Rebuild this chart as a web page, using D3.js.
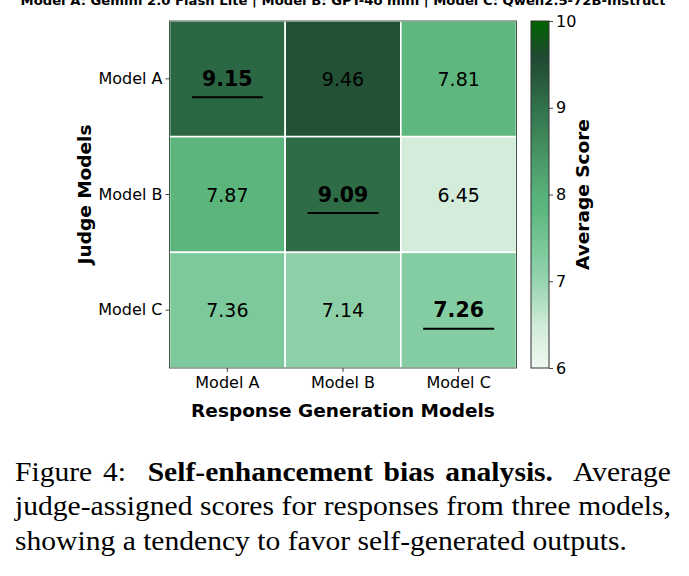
<!DOCTYPE html>
<html>
<head>
<meta charset="utf-8">
<script src="https://cdn.jsdelivr.net/npm/d3@7"></script>
<style>
  html, body { margin: 0; padding: 0; background: #fff; }
  svg { display: block; }
</style>
</head>
<body>
<svg id="chart" width="689" height="576"></svg>
<script>
// ---- data ----
const responseModels = ["Model A", "Model B", "Model C"];   // columns
const judgeModels = ["Model A", "Model B", "Model C"];      // rows
const scoresJudgeA = [9.15, 9.46, 7.81];
const scoresJudgeB = [7.87, 9.09, 6.45];
const scoresJudgeC = [7.36, 7.14, 7.26];
const colorbarTicks = [6, 7, 8, 9, 10];
const topTitle = "Model A: Gemini 2.0 Flash Lite | Model B: GPT-4o mini | Model C: Qwen2.5-72B-Instruct";

const scoreRows = [scoresJudgeA, scoresJudgeB, scoresJudgeC];
const cells = [];
judgeModels.forEach((j, r) => responseModels.forEach((m, c) => {
  cells.push({ judge: j, resp: m, value: scoreRows[r][c], self: r === c });
}));

// ---- colour map ----
const cmapDomain = [6.0, 6.45, 7.0, 7.36, 7.8, 8.0, 9.1, 9.46, 9.6, 10.0];
const cmapRange = ["#eef8f1", "#d4eddb", "#97d4b0", "#7cc99b", "#5eb77f", "#58b17a",
                   "#2e6b46", "#235136", "#1f4b31", "#006400"];
const color = d3.scaleLinear().domain(cmapDomain).range(cmapRange).interpolate(d3.interpolateRgb).clamp(true);

const svg = d3.select("#chart");
const sans = "'DejaVu Sans', sans-serif";

// ---- clipped top title ----
svg.append("text")
  .attr("x", 343).attr("y", 5)
  .attr("text-anchor", "middle")
  .attr("font-family", sans).attr("font-weight", "bold").attr("font-size", 13)
  .attr("textLength", 645).attr("lengthAdjust", "spacingAndGlyphs")
  .text(topTitle);

// ---- heatmap ----
const hmLeft = 169.5, hmRight = 516.5, hmTop = 21, hmBottom = 368;
const x = d3.scaleBand().domain(responseModels).range([hmLeft, hmRight]);
const y = d3.scaleBand().domain(judgeModels).range([hmTop, hmBottom]);

const g = svg.append("g");
g.selectAll("rect.cell").data(cells).enter().append("rect")
  .attr("class", "cell")
  .attr("x", d => x(d.resp)).attr("y", d => y(d.judge))
  .attr("width", x.bandwidth()).attr("height", y.bandwidth())
  .attr("fill", d => color(d.value))
  .attr("stroke", "#ffffff").attr("stroke-width", 1.6);

// frame
g.append("rect")
  .attr("x", hmLeft).attr("y", hmTop).attr("width", hmRight - hmLeft).attr("height", hmBottom - hmTop)
  .attr("fill", "none").attr("stroke", "#3d5a45").attr("stroke-width", 1);

// annotations
g.selectAll("text.val").data(cells).enter().append("text")
  .attr("class", "val")
  .attr("x", d => x(d.resp) + x.bandwidth() / 2)
  .attr("y", d => y(d.judge) + y.bandwidth() / 2 + 7)
  .attr("text-anchor", "middle")
  .attr("font-family", sans)
  .attr("font-size", d => d.self ? 20.5 : 19)
  .attr("font-weight", d => d.self ? "bold" : "normal")
  .attr("fill", "#000")
  .text(d => d.value.toFixed(2));

g.selectAll("line.ul").data(cells.filter(d => d.self)).enter().append("line")
  .attr("class", "ul")
  .attr("x1", d => x(d.resp) + x.bandwidth() / 2 - 35.5)
  .attr("x2", d => x(d.resp) + x.bandwidth() / 2 + 35.5)
  .attr("y1", d => y(d.judge) + y.bandwidth() / 2 + 18.5)
  .attr("y2", d => y(d.judge) + y.bandwidth() / 2 + 18.5)
  .attr("stroke", "#000").attr("stroke-width", 2);

// axes
const xAxis = svg.append("g").attr("transform", `translate(0,${hmBottom})`)
  .call(d3.axisBottom(x).tickSize(4).tickSizeOuter(0).tickPadding(4));
const yAxis = svg.append("g").attr("transform", `translate(${hmLeft},0)`)
  .call(d3.axisLeft(y).tickSize(4).tickSizeOuter(0).tickPadding(3));
[xAxis, yAxis].forEach(a => {
  a.select(".domain").remove();
  a.selectAll(".tick line").attr("stroke", "#333").attr("stroke-width", 0.9);
  a.selectAll(".tick text").attr("font-family", sans).attr("font-size", 16).attr("fill", "#000");
});
xAxis.selectAll(".tick text").attr("dy", "0.75em");

// axis labels
svg.append("text")
  .attr("x", (hmLeft + hmRight) / 2).attr("y", 417)
  .attr("text-anchor", "middle")
  .attr("font-family", sans).attr("font-weight", "bold").attr("font-size", 18.5)
  .text("Response Generation Models");
svg.append("text")
  .attr("transform", `translate(91,${(hmTop + hmBottom) / 2}) rotate(-90)`)
  .attr("text-anchor", "middle")
  .attr("font-family", sans).attr("font-weight", "bold").attr("font-size", 18.5)
  .text("Judge Models");

// ---- colorbar ----
const cbX = 531, cbW = 18;
const cbScale = d3.scaleLinear().domain([6, 10]).range([hmBottom, hmTop]);
const defs = svg.append("defs");
const grad = defs.append("linearGradient").attr("id", "cbgrad")
  .attr("x1", "0").attr("y1", "1").attr("x2", "0").attr("y2", "0");
d3.range(0, 1.0001, 0.02).forEach(t => {
  grad.append("stop").attr("offset", t).attr("stop-color", color(6 + 4 * t));
});
svg.append("rect")
  .attr("x", cbX).attr("y", hmTop).attr("width", cbW).attr("height", hmBottom - hmTop)
  .attr("fill", "url(#cbgrad)").attr("stroke", "#333").attr("stroke-width", 1);
const cbAxis = svg.append("g").attr("transform", `translate(${cbX + cbW},0)`)
  .call(d3.axisRight(cbScale).tickValues(colorbarTicks).tickFormat(d3.format("d"))
    .tickSize(4).tickSizeOuter(0).tickPadding(3));
cbAxis.select(".domain").remove();
cbAxis.selectAll(".tick line").attr("stroke", "#333").attr("stroke-width", 0.9);
cbAxis.selectAll(".tick text").attr("font-family", sans).attr("font-size", 16).attr("fill", "#000");
svg.append("text")
  .attr("transform", `translate(589,${(hmTop + hmBottom) / 2}) rotate(-90)`)
  .attr("text-anchor", "middle")
  .attr("font-family", sans).attr("font-weight", "bold").attr("font-size", 18.5)
  .text("Average Score");

// ---- caption ----
const serif = "'Liberation Serif', 'Times New Roman', serif";
const capX = 15, capRight = 671, lastLineRight = 627;
const capSize = 26.5;
const capG = svg.append("g");
function capLine(yy, parts) {
  const t = capG.append("text").attr("x", 0).attr("y", yy)
    .attr("font-family", serif).attr("font-size", capSize).attr("fill", "#000")
    .style("white-space", "pre");
  parts.forEach(p => t.append("tspan").attr("font-weight", p.b ? "bold" : "normal").text(p.t));
  return t;
}
const l1parts = [{t: "Figure 4:  "}, {t: "Self-enhancement bias analysis.", b: true}, {t: "  Average"}];
const l2parts = [{t: "judge-assigned scores for responses from three models,"}];
const l1 = capLine(481, l1parts);
const l2 = capLine(515.5, l2parts);
const l3 = capLine(550, [{t: "showing a tendency to favor self-generated outputs."}]);
// horizontal scale so the (unjustified) last line matches the reference width
const sx = (lastLineRight - capX) / l3.node().getComputedTextLength();
capG.attr("transform", `translate(${capX},0) scale(${sx},1)`);
const target = (capRight - capX) / sx;
[[l1, l1parts], [l2, l2parts]].forEach(([t, parts]) => {
  const w = t.node().getComputedTextLength();
  const n = (parts.map(p => p.t).join("").match(/ /g) || []).length;
  t.attr("word-spacing", (target - w) / n);
});
</script>
</body>
</html>
